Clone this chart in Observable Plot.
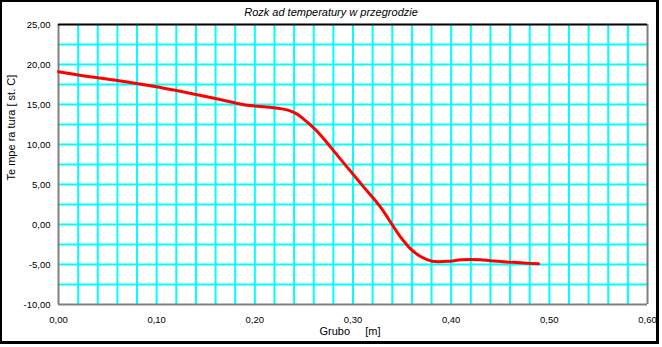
<!DOCTYPE html>
<html><head><meta charset="utf-8">
<script src="https://cdn.jsdelivr.net/npm/d3@7"></script>
<script src="https://cdn.jsdelivr.net/npm/@observablehq/plot@0.6"></script>
<style>
html,body{margin:0;padding:0;background:#fff;}
#wrap{position:relative;width:662px;height:347px;overflow:hidden;background:#fff;}
#border{position:absolute;left:0;top:0;width:654px;height:339px;border-style:solid;border-color:#000;border-width:2px 3px 3px 2px;pointer-events:none;}
</style></head><body>
<div id="wrap"><div id="chart"></div><div id="border"></div></div>
<script>
const thickness = [0, 0.025, 0.06, 0.095, 0.13, 0.16, 0.19, 0.215, 0.228, 0.236, 0.243, 0.25, 0.2575, 0.2669, 0.277, 0.294, 0.311, 0.328, 0.3415, 0.3485, 0.3586, 0.3688, 0.3807, 0.3993, 0.41, 0.43, 0.44, 0.46, 0.4775, 0.489];
const temperature = [19.1, 18.6, 18.0, 17.3, 16.5, 15.75, 14.95, 14.66, 14.45, 14.2, 13.8, 13.15, 12.35, 11.2, 9.7, 7.17, 4.67, 2.17, -0.33, -1.58, -3.04, -4.0, -4.6, -4.58, -4.41, -4.41, -4.54, -4.71, -4.83, -4.92];
const xTicks = [0, 0.1, 0.2, 0.3, 0.4, 0.5, 0.6];
const yTicks = [-10, -5, 0, 5, 10, 15, 20, 25];
const xGrid = [0.02,0.04,0.06,0.08,0.10,0.12,0.14,0.16,0.18,0.20,0.22,0.24,0.26,0.28,0.30,0.32,0.34,0.36,0.38,0.40,0.42,0.44,0.46,0.48,0.50,0.52,0.54,0.56,0.58];
const yGrid = [-7.5,-5,-2.5,0,2.5,5,7.5,10,12.5,15,17.5,20,22.5];
const titleText = "Rozk ad temperatury w przegrodzie";
const xLabel = "Grubo\u00a0\u00a0\u00a0\u00a0\u00a0[m]";
const yLabel = "Te mpe ra tura [ st. C]";

const data = thickness.map((x, i) => ({x, y: temperature[i]}));
const loc = d3.formatLocale({decimal: ",", thousands: ".", grouping: [3], currency: ["", ""], minus: "-"});
const fmt = loc.format(".2f");

const chart = Plot.plot({
  width: 662, height: 347,
  marginLeft: 58, marginRight: 15, marginTop: 24, marginBottom: 43,
  style: {fontFamily: "'Liberation Sans', Arial, sans-serif", fontSize: "9.5px", background: "white", color: "#000"},
  x: {domain: [0, 0.6], axis: null},
  y: {domain: [-10, 25], axis: null},
  marks: [
    Plot.ruleX(xGrid, {stroke: "#00ffff", strokeWidth: 2}),
    Plot.ruleY(yGrid, {stroke: "#00ffff", strokeWidth: 2}),
    Plot.ruleX([0, 0.6], {stroke: "#808080", strokeWidth: 2}),
    Plot.ruleY([-10], {stroke: "#808080", strokeWidth: 2}),
    Plot.ruleY([25], {stroke: "#000000", strokeWidth: 2}),
    Plot.line(data, {x: "x", y: "y", stroke: "#ff0000", strokeWidth: 3, curve: "catmull-rom"}),
    Plot.axisX(xTicks, {tickSize: 0, tickPadding: 12, tickFormat: fmt, fontSize: 9.5, fill: "#000", label: null}),
    Plot.axisY(yTicks, {tickSize: 0, tickPadding: 8, tickFormat: fmt, fontSize: 9.5, fill: "#000", label: null}),
    Plot.text([titleText], {frameAnchor: "top", dx: -22, dy: -12, lineAnchor: "middle", fontStyle: "italic", fontSize: 11, fill: "#000"}),
    Plot.text([xLabel], {frameAnchor: "bottom", dx: -3, dy: 27, lineAnchor: "middle", fontSize: 11, fill: "#000"}),
    Plot.text([yLabel], {frameAnchor: "left", dx: -47, dy: 16, rotate: -90, lineAnchor: "middle", fontSize: 11, fill: "#000"})
  ]
});
document.getElementById("chart").appendChild(chart);
</script>
</body></html>
